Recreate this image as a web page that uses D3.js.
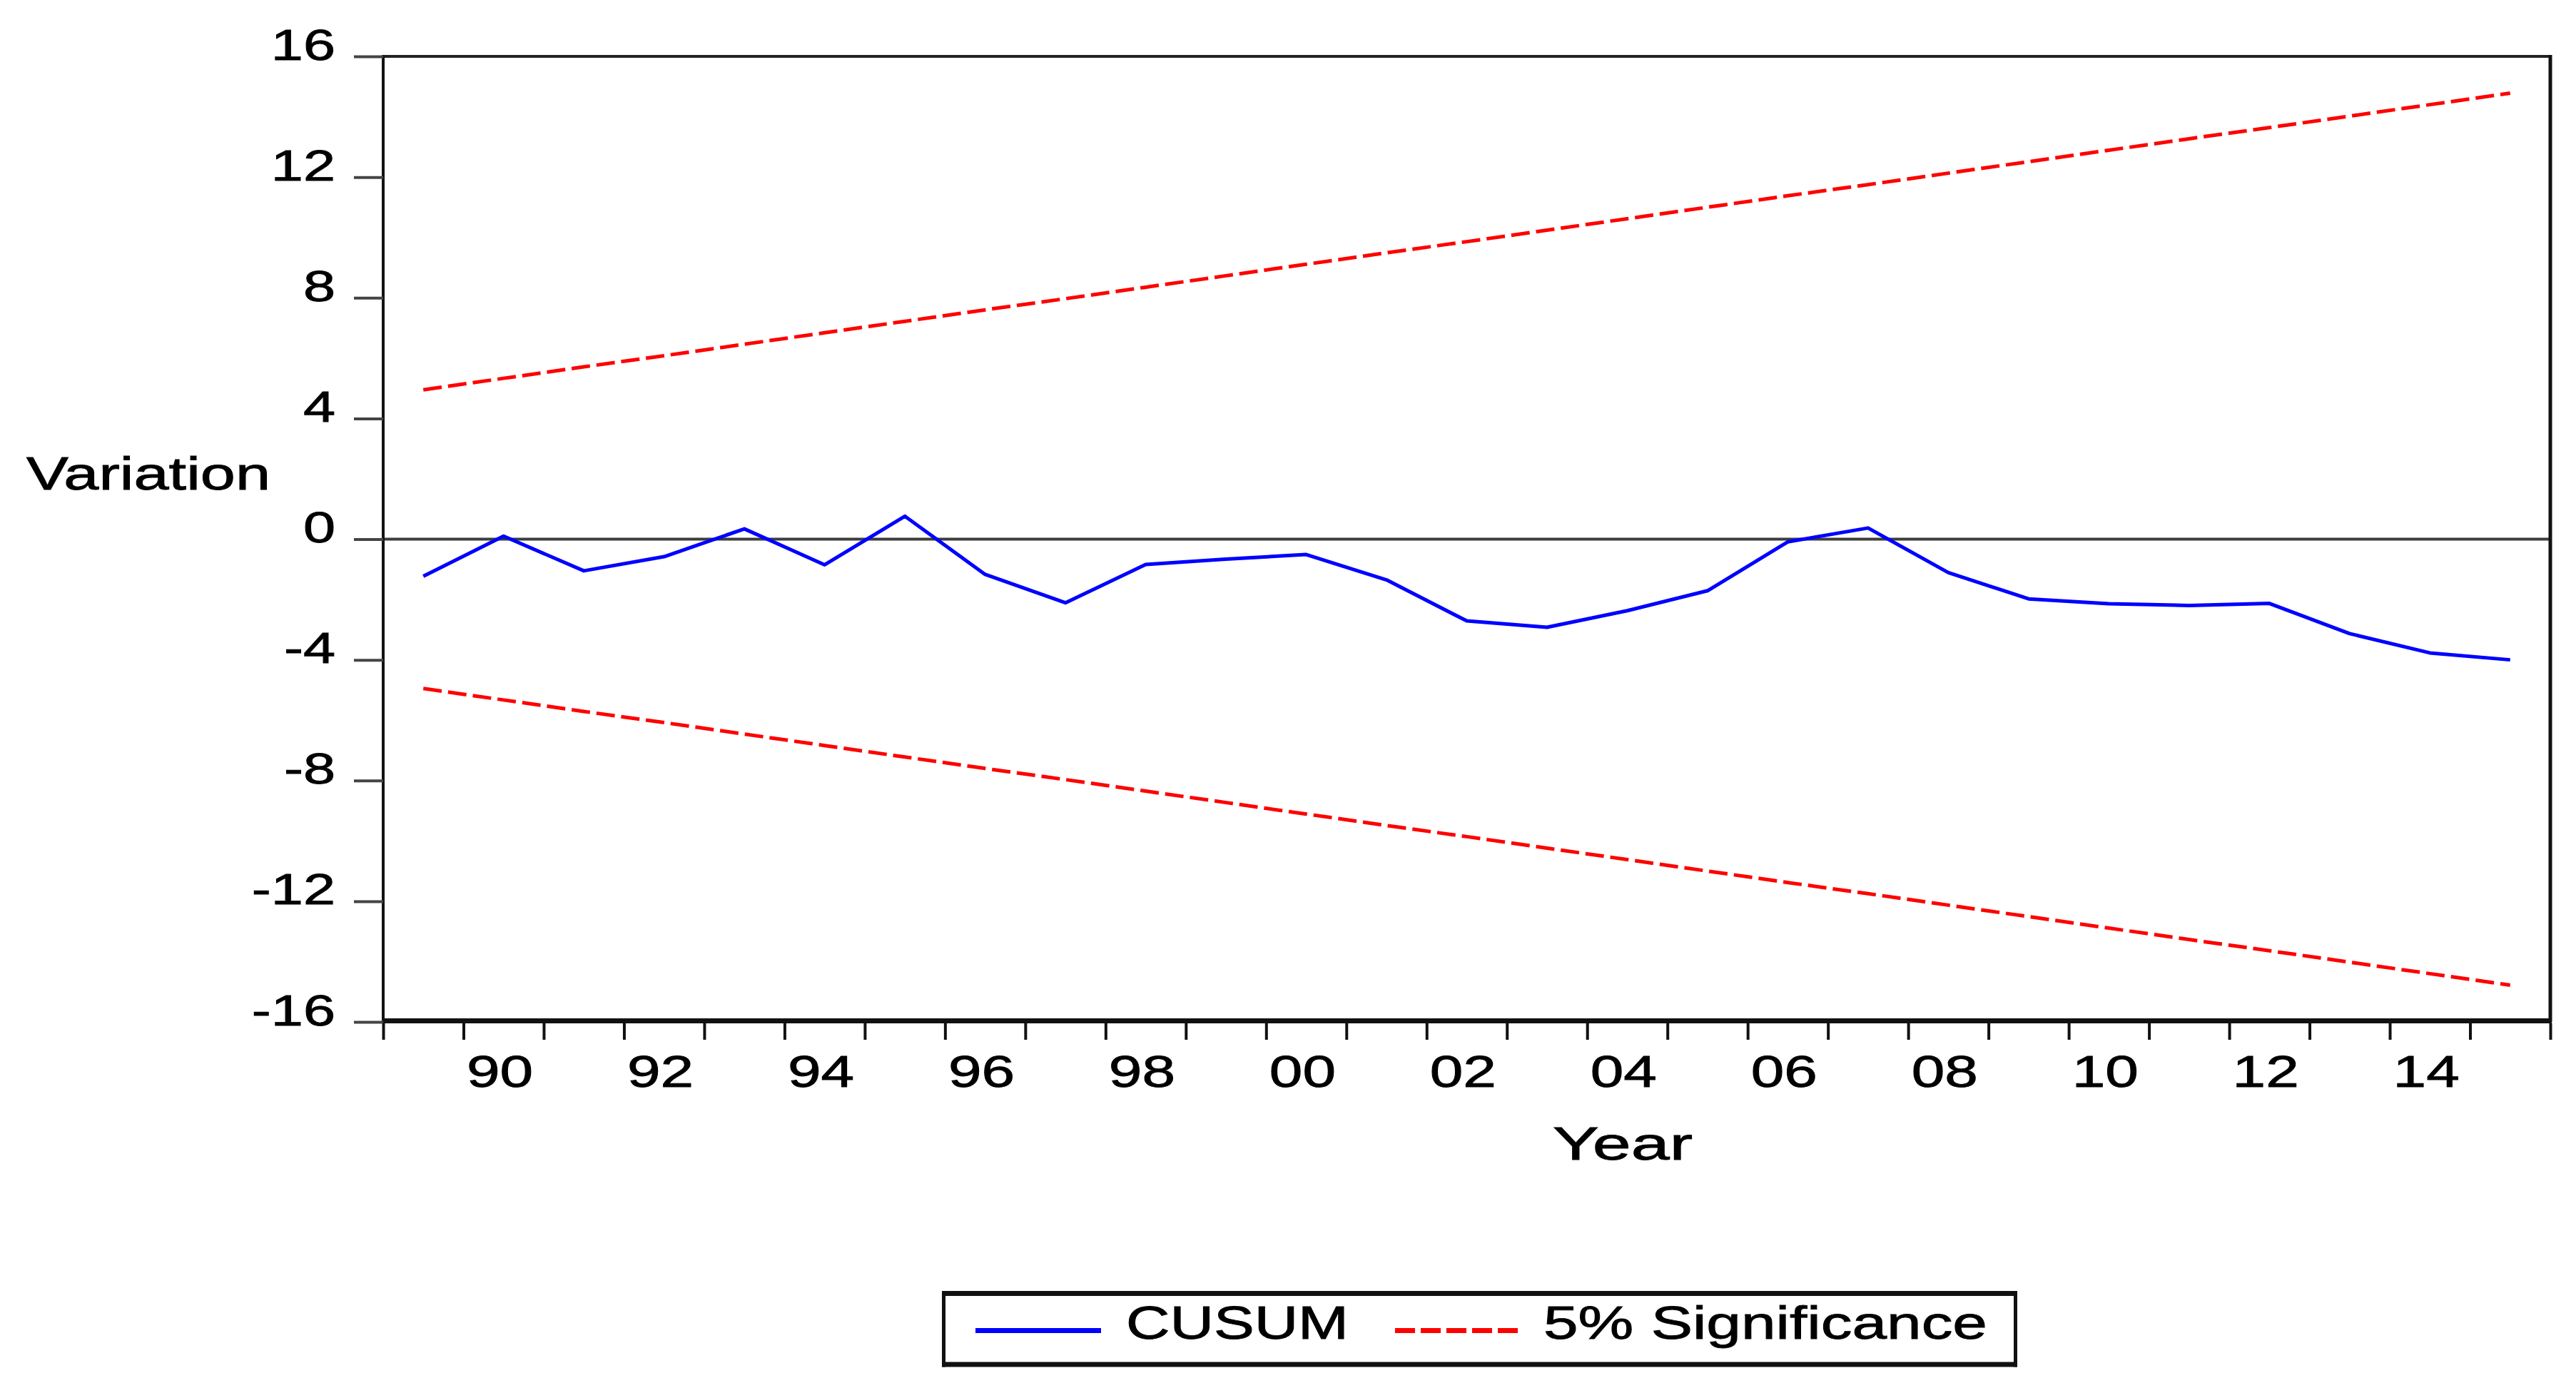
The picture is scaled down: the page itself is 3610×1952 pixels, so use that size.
<!DOCTYPE html>
<html>
<head>
<meta charset="utf-8">
<script src="https://cdn.jsdelivr.net/npm/d3@7"></script>
<style>
  html, body { margin: 0; padding: 0; background: #ffffff; }
  svg { display: block; }
  text { font-family: "Liberation Sans", Arial, sans-serif; fill: #000; stroke: #000; stroke-width: 0.9px; }
</style>
</head>
<body>
<svg id="chart" width="3610" height="1952"></svg>
<script>
// ---------------- DATA ----------------
const years = [1989,1990,1991,1992,1993,1994,1995,1996,1997,1998,1999,2000,2001,2002,
               2003,2004,2005,2006,2007,2008,2009,2010,2011,2012,2013,2014,2015];
const cusum = [-1.23,0.10,-1.05,-0.58,0.34,-0.85,0.76,-1.17,-2.11,-0.84,-0.66,-0.51,-1.35,-2.71,
               -2.92,-2.37,-1.71,-0.09,0.37,-1.11,-1.98,-2.14,-2.20,-2.13,-3.13,-3.77,-4.00];
const upper5 = [4.95,5.33,5.71,6.08,6.46,6.84,7.22,7.60,7.97,8.35,8.73,9.11,9.49,9.86,
                10.24,10.62,11.00,11.38,11.75,12.13,12.51,12.89,13.27,13.64,14.02,14.40,14.78];
const lower5 = [-4.95,-5.33,-5.71,-6.08,-6.46,-6.84,-7.22,-7.60,-7.97,-8.35,-8.73,-9.11,-9.49,-9.86,
                -10.24,-10.62,-11.00,-11.38,-11.75,-12.13,-12.51,-12.89,-13.27,-13.64,-14.02,-14.40,-14.78];
const yTicks = [-16,-12,-8,-4,0,4,8,12,16];
const xLabelYears = [1990,1992,1994,1996,1998,2000,2002,2004,2006,2008,2010,2012,2014];
const xTickLabels = ["90","92","94","96","98","00","02","04","06","08","10","12","14"];
const seriesNames = ["CUSUM","5% Significance"];
const yTitle = "Variation";
const xTitle = "Year";

// ---------------- LAYOUT ----------------
const SX = 1.33;              // horizontal text stretch seen in the reference
const pL = 537, pR = 3574, pT = 79, pB = 1432;
const svg = d3.select("#chart");
svg.append("rect").attr("width",3610).attr("height",1952).attr("fill","#fff");

const x = d3.scaleLinear().domain([1989, 2016]).range([pL, pR]);
const y = d3.scaleLinear().domain([-16, 16]).range([pB, pT]);

// zero line
svg.append("line")
  .attr("x1", pL).attr("x2", pR)
  .attr("y1", y(0)).attr("y2", y(0))
  .attr("stroke", "#3d3d3d").attr("stroke-width", 4);

// series
const line = d3.line().x((d,i) => x(years[i] + 0.5)).y(d => y(d));
svg.append("path").datum(upper5).attr("d", line)
  .attr("fill","none").attr("stroke","#ff0000").attr("stroke-width",5)
  .attr("stroke-dasharray","26,9");
svg.append("path").datum(lower5).attr("d", line)
  .attr("fill","none").attr("stroke","#ff0000").attr("stroke-width",5)
  .attr("stroke-dasharray","26,9");
svg.append("path").datum(cusum).attr("d", line)
  .attr("fill","none").attr("stroke","#0000ff").attr("stroke-width",5)
  .attr("stroke-linejoin","round");

// frame
svg.append("line").attr("x1", pL).attr("x2", pR).attr("y1", pT).attr("y2", pT)
  .attr("stroke","#222").attr("stroke-width",4);
svg.append("line").attr("x1", pR).attr("x2", pR).attr("y1", pT-2).attr("y2", pB)
  .attr("stroke","#111").attr("stroke-width",5);
svg.append("line").attr("x1", pL).attr("x2", pL).attr("y1", pT-2).attr("y2", pB)
  .attr("stroke","#111").attr("stroke-width",4);
svg.append("line").attr("x1", pL-2).attr("x2", pR+2).attr("y1", pB-1.5).attr("y2", pB-1.5)
  .attr("stroke","#111").attr("stroke-width",7);

// y axis
const yAxis = d3.axisLeft(y).tickValues(yTicks).tickSize(41).tickFormat(d => String(d));
const gy = svg.append("g").attr("transform", `translate(${pL},0)`).call(yAxis);
gy.select(".domain").remove();
gy.selectAll(".tick line").attr("stroke","#444").attr("stroke-width",4);
gy.selectAll(".tick text")
  .attr("x", -67 / SX).attr("dy", null).attr("y", 4)
  .attr("transform", `scale(${SX},1)`)
  .style("font-size","61px").attr("text-anchor","end").attr("fill","#000");

// x axis ticks at year boundaries
const tickYears = d3.range(1989, 2017);
const xAxisTicks = d3.axisBottom(x).tickValues(tickYears).tickSize(23).tickFormat("");
const gx = svg.append("g").attr("transform", `translate(0,${pB + 2})`).call(xAxisTicks);
gx.select(".domain").remove();
gx.selectAll(".tick line").attr("stroke","#111").attr("stroke-width",4);

// x labels centred in the year interval
const xAxisLabels = d3.axisBottom(x)
  .tickValues(xLabelYears.map(v => v + 0.45))
  .tickSize(0)
  .tickFormat((d,i) => xTickLabels[i]);
const gxl = svg.append("g").call(xAxisLabels);
gxl.select(".domain").remove();
gxl.selectAll(".tick line").remove();
gxl.selectAll(".tick text")
  .attr("x", 0).attr("dy", null).attr("y", 1523)
  .attr("transform", `scale(${SX},1)`)
  .style("font-size","63px").attr("text-anchor","middle").attr("fill","#000");

// helper for fitted text
function fittedText(px, py, txt, size, width, anchor) {
  return svg.append("text").attr("x", px).attr("y", py)
    .attr("text-anchor", anchor || "start")
    .attr("textLength", width).attr("lengthAdjust", "spacingAndGlyphs")
    .style("font-size", size + "px")
    .text(txt);
}

// axis titles
fittedText(37, 686, yTitle, 65, 342, "start");
fittedText(2274, 1625, xTitle, 65, 196, "middle");

// legend
const lg = svg.append("g");
lg.append("rect").attr("x", 1322).attr("y", 1812.5).attr("width", 1503).attr("height", 100)
  .attr("fill","#fff").attr("stroke","none");
lg.append("line").attr("x1",1320).attr("x2",2827).attr("y1",1812.5).attr("y2",1812.5)
  .attr("stroke","#111").attr("stroke-width",7);
lg.append("line").attr("x1",1320).attr("x2",2827).attr("y1",1912).attr("y2",1912)
  .attr("stroke","#111").attr("stroke-width",7);
lg.append("line").attr("x1",1322.5).attr("x2",1322.5).attr("y1",1809).attr("y2",1915.5)
  .attr("stroke","#111").attr("stroke-width",5);
lg.append("line").attr("x1",2824.5).attr("x2",2824.5).attr("y1",1809).attr("y2",1915.5)
  .attr("stroke","#111").attr("stroke-width",5);

lg.append("line").attr("x1",1367).attr("x2",1543).attr("y1",1864.5).attr("y2",1864.5)
  .attr("stroke","#0000ff").attr("stroke-width",7);
fittedText(1578, 1876, seriesNames[0], 65, 312, "start");
lg.append("line").attr("x1",1955).attr("x2",2127).attr("y1",1864.5).attr("y2",1864.5)
  .attr("stroke","#ff0000").attr("stroke-width",7).attr("stroke-dasharray","28,8");
fittedText(2163, 1876, seriesNames[1], 65, 622, "start");
</script>
</body>
</html>
